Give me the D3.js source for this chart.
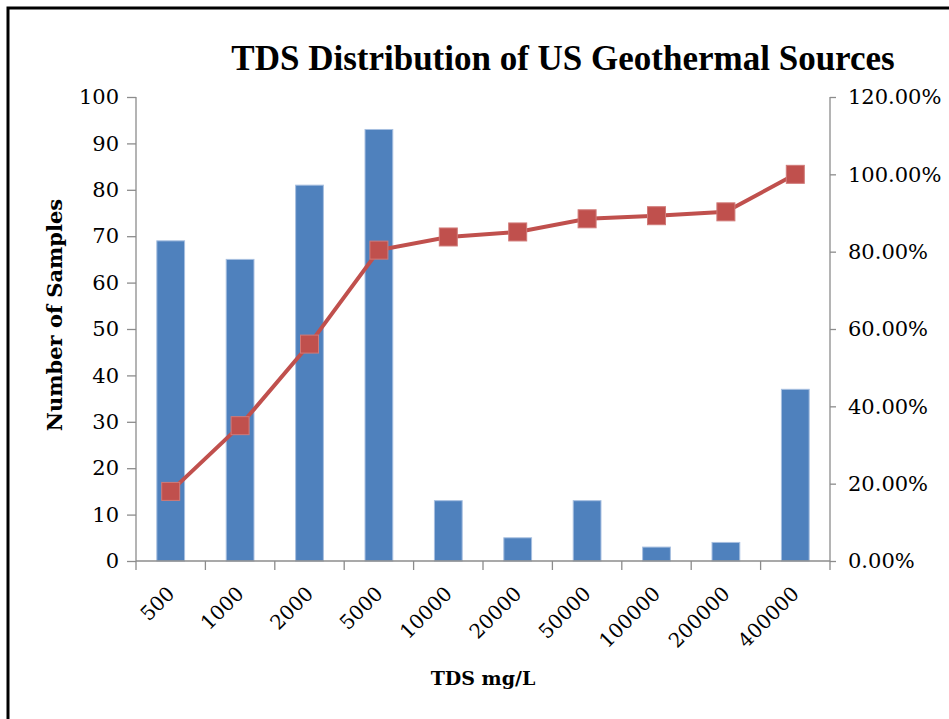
<!DOCTYPE html>
<html>
<head>
<meta charset="utf-8">
<script src="https://cdn.jsdelivr.net/npm/d3@7"></script>
<style>
html,body{margin:0;padding:0;background:#fff;}
svg{display:block;}
</style>
</head>
<body>
<svg id="chart" width="949" height="719"></svg>
<script>
const categories = ["500","1000","2000","5000","10000","20000","50000","100000","200000","400000"];
const sampleCounts = [69, 65, 81, 93, 13, 5, 13, 3, 4, 37];
const cumulativePct = [18.0, 35.0, 56.1, 80.4, 83.8, 85.1, 88.5, 89.3, 90.3, 100.0];
const leftTicks = [0,10,20,30,40,50,60,70,80,90,100];
const rightTicks = [0,20,40,60,80,100,120];

const FONT = "'DejaVu Serif', 'Liberation Serif', serif";
const TITLE_FONT = "'Liberation Serif', 'DejaVu Serif', serif";
const svg = d3.select("#chart");

// frame
svg.append("rect").attr("x",8).attr("y",8).attr("width",960).attr("height",740)
  .attr("fill","none").attr("stroke","#000").attr("stroke-width",3);

const L = 136, R = 830, T = 97, B = 561;
const xc = d3.scaleBand().domain(categories).range([L, R]);
const yL = d3.scaleLinear().domain([0,100]).range([B, T]);
const yR = d3.scaleLinear().domain([0,120]).range([B, T]);
const barW = xc.bandwidth() / 2.5;

// bars
svg.append("g").selectAll("rect").data(categories).join("rect")
  .attr("x", d => xc(d) + xc.bandwidth()/2 - barW/2)
  .attr("width", barW)
  .attr("y", (d,i) => yL(sampleCounts[i]))
  .attr("height", (d,i) => B - yL(sampleCounts[i]))
  .attr("fill","#4F81BD").attr("stroke","#A7BFE0").attr("stroke-width",1);

// axes
const axisColor = "#8c8c8c";
const gl = svg.append("g").attr("transform",`translate(${L},0)`)
  .call(d3.axisLeft(yL).tickValues(leftTicks).tickSize(9).tickPadding(8).tickFormat(d3.format("d")));
const gr = svg.append("g").attr("transform",`translate(${R},0)`)
  .call(d3.axisRight(yR).tickValues(rightTicks).tickSize(6).tickPadding(12).tickFormat(d => d.toFixed(2) + "%"));
const gb = svg.append("g").attr("transform",`translate(0,${B})`)
  .call(d3.axisBottom(xc).tickSize(0).tickFormat(d => d));
// category boundary ticks
svg.append("g").selectAll("line").data(d3.range(categories.length+1)).join("line")
  .attr("x1", i => L + i*xc.step()).attr("x2", i => L + i*xc.step())
  .attr("y1", B).attr("y2", B+9).attr("stroke",axisColor).attr("stroke-width",1.3);

[gl,gr,gb].forEach(g => {
  g.attr("font-family",FONT).attr("font-size",21);
  g.select(".domain").attr("stroke",axisColor).attr("stroke-width",1.3);
  g.selectAll(".tick line").attr("stroke",axisColor).attr("stroke-width",1.3);
  g.selectAll("text").attr("font-family",FONT).attr("font-size",21).attr("fill","#000");
});
gb.selectAll("text").attr("font-size",20);
gl.select(".domain").attr("d",`M-0,${B}V${T}`);
gr.select(".domain").attr("d",`M0,${B}V${T}`);
gb.select(".domain").attr("d",`M${L},0H${R}`);
gb.selectAll(".tick text")
  .attr("text-anchor","end").attr("dy",0).attr("y",0)
  .attr("transform","translate(5,34) rotate(-45)");

// line
const line = d3.line().x((d,i) => xc(categories[i]) + xc.bandwidth()/2).y(d => yR(d));
svg.append("path").datum(cumulativePct).attr("d",line)
  .attr("fill","none").attr("stroke","#C0504D").attr("stroke-width",4);
svg.append("g").selectAll("rect").data(cumulativePct).join("rect")
  .attr("x",(d,i) => xc(categories[i]) + xc.bandwidth()/2 - 9)
  .attr("y",d => yR(d) - 9).attr("width",18).attr("height",18)
  .attr("fill","#C0504D").attr("stroke","#D07a78").attr("stroke-width",1);

// titles
svg.append("text").attr("x",563).attr("y",70).attr("text-anchor","middle")
  .attr("font-family",TITLE_FONT).attr("font-weight","bold").attr("font-size",35)
  .text("TDS Distribution of US Geothermal Sources");
svg.append("text").attr("x",483).attr("y",685).attr("text-anchor","middle")
  .attr("font-family",FONT).attr("font-weight","bold").attr("font-size",19)
  .text("TDS mg/L");
svg.append("text").attr("transform","translate(62,315) rotate(-90)").attr("text-anchor","middle")
  .attr("font-family",FONT).attr("font-weight","bold").attr("font-size",21)
  .text("Number of Samples");
</script>
</body>
</html>
